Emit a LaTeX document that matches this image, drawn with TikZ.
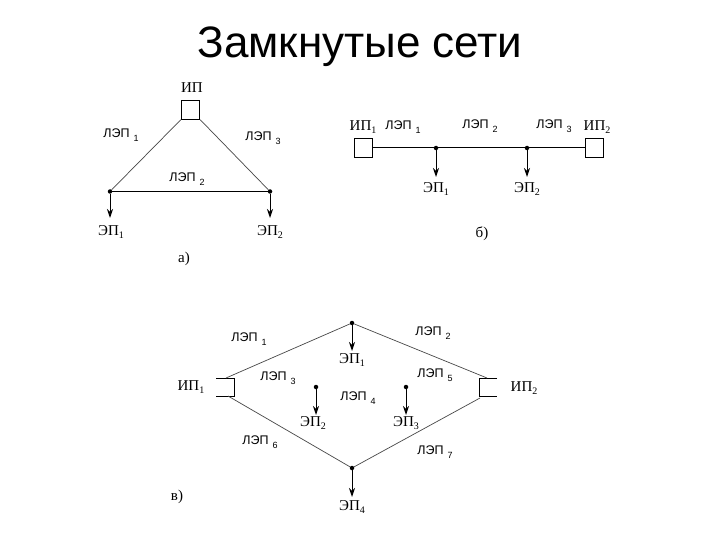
\documentclass[tikz,border=0pt]{standalone}
\usepackage{fontspec}
\setmainfont{Liberation Serif}
\newfontfamily\arialf{Liberation Sans}
\usetikzlibrary{arrows.meta}
\newcommand{\lepl}[1]{{\arialf ЛЭП}\hspace{4pt}\raisebox{-4pt}{\arialf\fontsize{9}{9}\selectfont #1}}
\newcommand{\sbs}[1]{\raisebox{-2.5pt}{\fontsize{10}{10}\selectfont #1}}
\tikzset{
  x=1pt,y=-1pt,
  lbl/.style={inner sep=0pt,font=\fontsize{12.5}{13}\selectfont},
  srf/.style={inner sep=0pt,font=\fontsize{15}{16}\selectfont},
  src/.style={draw=black,line width=0.8pt,minimum size=18.5pt,inner sep=0pt,fill=white},
  pt/.style={circle,fill=black,inner sep=0pt,minimum size=4.5pt},
  wire/.style={line width=1pt,black},
  diag/.style={line width=0.7pt,black!72},
  load/.style={line width=1pt,black,-{Stealth[length=9pt,width=6pt]}},
  open/.style={line width=0.9pt,black},
}
\begin{document}
\begin{tikzpicture}
\useasboundingbox (0,0) rectangle (720,540);
\fill[white] (0,0) rectangle (720,540);
\node[inner sep=0pt,font=\arialf\fontsize{44}{48}\selectfont] (title) at (360,47) {Замкнутые сети};

% a)
\node[src] (aS) at (190.5,110) {};
\node[pt] (aL) at (110,191.5) {};
\node[pt] (aR) at (270,191.5) {};
\coordinate (aLe) at (110,218);
\coordinate (aRe) at (270,218);
\draw[diag] (aS.south west) -- (aL);
\draw[diag] (aS.south east) -- (aR);
\draw[wire] (aL) -- (aR);
\draw[load] (aL) -- (aLe);
\draw[load] (aR) -- (aRe);
\node[srf] (aT) at (192,88) {ИП};
\node[lbl] (a1) at (121,135) {\lepl{1}};
\node[lbl] (a3) at (263,138) {\lepl{3}};
\node[lbl] (a2) at (187,179) {\lepl{2}};
\node[srf] (aE1) at (111,232) {ЭП\sbs{1}};
\node[srf] (aE2) at (270,232) {ЭП\sbs{2}};
\node[srf] (aCap) at (184,259) {а)};

% b)
\node[src] (bS1) at (363.5,148) {};
\node[src] (bS2) at (594.5,148) {};
\node[pt] (bA) at (436,148) {};
\node[pt] (bB) at (527,148) {};
\coordinate (bAe) at (436,177);
\coordinate (bBe) at (527,177);
\draw[wire] (bS1) -- (bA);
\draw[wire] (bA) -- (bB);
\draw[wire] (bB) -- (bS2);
\draw[load] (bA) -- (bAe);
\draw[load] (bB) -- (bBe);
\node[srf] (bI1) at (363,127) {ИП\sbs{1}};
\node[srf] (bI2) at (597,127) {ИП\sbs{2}};
\node[lbl] (b1) at (403,127) {\lepl{1}};
\node[lbl] (b2) at (480,126) {\lepl{2}};
\node[lbl] (b3) at (554,126) {\lepl{3}};
\node[srf] (bE1) at (436,189) {ЭП\sbs{1}};
\node[srf] (bE2) at (527,189) {ЭП\sbs{2}};
\node[srf] (bCap) at (482,234) {б)};

% c)
\coordinate (cLa) at (216,378); \coordinate (cLb) at (234,378);
\coordinate (cLc) at (234,396); \coordinate (cLd) at (216,396);
\coordinate (cRa) at (497,378); \coordinate (cRb) at (479,378);
\coordinate (cRc) at (479,396); \coordinate (cRd) at (497,396);
\draw[open] (cLa) -- (cLb) -- (cLc) -- (cLd);
\draw[open] (cRa) -- (cRb) -- (cRc) -- (cRd);
\coordinate (cLt) at (226,378); \coordinate (cLu) at (228,396);
\coordinate (cRt) at (487,378); \coordinate (cRu) at (480,398);
\node[pt] (cT) at (352,323) {};
\node[pt] (cB) at (352,468) {};
\node[pt] (cP) at (316,387) {};
\node[pt] (cQ) at (406,387) {};
\coordinate (cTe) at (352,351); \coordinate (cBe) at (352,497);
\coordinate (cPe) at (316,415); \coordinate (cQe) at (406,415);
\draw[diag] (cLt) -- (cT);
\draw[diag] (cT) -- (cRt);
\draw[diag] (cLu) -- (cB);
\draw[diag] (cB) -- (cRu);
\draw[load] (cT) -- (cTe);
\draw[load] (cB) -- (cBe);
\draw[load] (cP) -- (cPe);
\draw[load] (cQ) -- (cQe);
\node[srf] (cI1) at (191,387) {ИП\sbs{1}};
\node[srf] (cI2) at (524,388) {ИП\sbs{2}};
\node[lbl] (c1) at (249,339) {\lepl{1}};
\node[lbl] (c2) at (433,333) {\lepl{2}};
\node[lbl] (c3) at (278,378) {\lepl{3}};
\node[lbl] (c4) at (358,398) {\lepl{4}};
\node[lbl] (c5) at (435,375) {\lepl{5}};
\node[lbl] (c6) at (260,442) {\lepl{6}};
\node[lbl] (c7) at (435,452) {\lepl{7}};
\node[srf] (cE1) at (352,360) {ЭП\sbs{1}};
\node[srf] (cE2) at (313,423) {ЭП\sbs{2}};
\node[srf] (cE3) at (406,423) {ЭП\sbs{3}};
\node[srf] (cE4) at (352,507) {ЭП\sbs{4}};
\node[srf] (cCap) at (177,497) {в)};
\end{tikzpicture}
\end{document}
